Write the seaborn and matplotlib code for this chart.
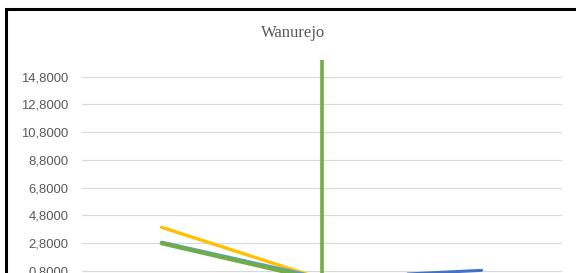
import matplotlib
matplotlib.use('Agg')
import matplotlib.pyplot as plt
import matplotlib.patches as mpatches
import numpy as np
import seaborn as sns

# data (3 categories, comma is the decimal sign)
categories = [1, 2, 3]
yellow = [3.95, 0.23, np.nan]
light_blue = [2.88, 0.30, np.nan]
dark_blue = [np.nan, 0.28, 0.85]
green = [2.80, 0.14, np.nan]
# the vertical green stroke at the middle category
spike_x = [2, 2]
spike_y = [16.0, -1.2]
yticks = [0.8, 2.8, 4.8, 6.8, 8.8, 10.8, 12.8, 14.8]
title = 'Wanurejo'

sns.set_style('white')
plt.rcParams['font.family'] = ['Liberation Sans', 'DejaVu Sans']

W, H = 576, 273
fig = plt.figure(figsize=(W / 100, H / 100), dpi=100)
fig.patch.set_facecolor('white')

# plot area: x 81.7..561.5 px, y top 60 px (16.0) down to -1.2 off the picture
top_px, bot_px = 60.0, 298.8
ax = fig.add_axes([81.7 / W, (H - bot_px) / H, 479.8 / W, (bot_px - top_px) / H])
ax.set_xlim(0.5, 3.5)
ax.set_ylim(-1.2, 16.0)

sns.lineplot(x=categories, y=yellow, ax=ax, color='#FFC000', lw=2.4,
             estimator=None, sort=False, solid_capstyle='round')
sns.lineplot(x=categories, y=light_blue, ax=ax, color='#5B9BD5', lw=2.2,
             estimator=None, sort=False, solid_capstyle='round')
sns.lineplot(x=categories, y=dark_blue, ax=ax, color='#4472C4', lw=2.2,
             estimator=None, sort=False, solid_capstyle='round')
sns.lineplot(x=categories, y=green, ax=ax, color='#70AD47', lw=3.0,
             estimator=None, sort=False, solid_capstyle='round')
sns.lineplot(x=spike_x, y=spike_y, ax=ax, color='#70AD47', lw=2.6,
             estimator=None, sort=False, solid_capstyle='butt')

ax.set_yticks(yticks)
ax.set_yticklabels([f'{v:.4f}'.replace('.', ',') for v in yticks])
ax.set_xticks([])
ax.tick_params(axis='y', length=0, pad=9.5, labelsize=9.4, labelcolor='#595959')
ax.yaxis.grid(True, color='#D9D9D9', lw=0.9)
ax.set_axisbelow(True)
for s in ax.spines.values():
    s.set_visible(False)
ax.set_xlabel('')
ax.set_ylabel('')

fig.text(293 / W, (H - 37.3) / H, title, ha='center', va='baseline',
         fontsize=12, color='#595959', family=['Liberation Serif', 'DejaVu Serif'])

# black chart border, running off the right and bottom edges
fig.patches.append(mpatches.Rectangle((5.5 / W, -0.2), 1.2, (H - 9.3) / H + 0.2,
                                      transform=fig.transFigure, fill=False,
                                      edgecolor='black', lw=2.2, zorder=5))

fig.savefig('out.png', dpi=100)
